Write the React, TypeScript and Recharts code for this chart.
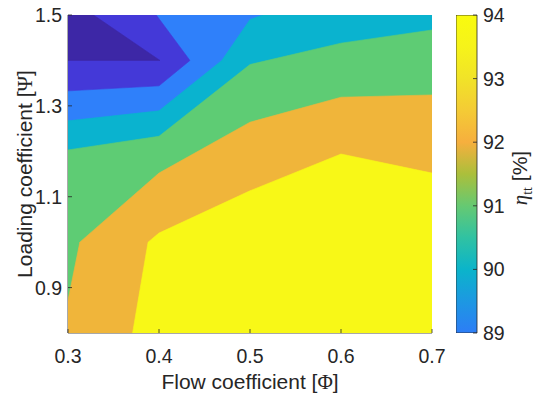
import React from 'react';
import { ComposedChart, Scatter, XAxis, YAxis, Label, Bar } from 'recharts';

type Pt = { x: number; y: number };

// Axes
const xDomain = [0.3, 0.7];
const yDomain = [0.8, 1.5];
const xTicks = [0.3, 0.4, 0.5, 0.6, 0.7];
const yTicks = [0.9, 1.1, 1.3, 1.5];

// Colorbar
const cbRange = [89, 94];
const cbTicks = [89, 90, 91, 92, 93, 94];

// Contour boundaries (Flow coefficient x, Loading coefficient y)
const topEdge: Pt[] = [
  { x: 0.3, y: 1.5 },
  { x: 0.7, y: 1.5 },
];
const cyanTop: Pt[] = [
  { x: 0.3, y: 1.267 },
  { x: 0.4, y: 1.289 },
  { x: 0.469, y: 1.4 },
  { x: 0.5, y: 1.49 },
  { x: 0.514, y: 1.5 },
  { x: 0.7, y: 1.5 },
];
const greenTop: Pt[] = [
  { x: 0.3, y: 1.203 },
  { x: 0.4, y: 1.233 },
  { x: 0.5, y: 1.391 },
  { x: 0.6, y: 1.438 },
  { x: 0.7, y: 1.467 },
];
const orangeTop: Pt[] = [
  { x: 0.3, y: 0.872 },
  { x: 0.313, y: 1.0 },
  { x: 0.4, y: 1.152 },
  { x: 0.5, y: 1.264 },
  { x: 0.6, y: 1.319 },
  { x: 0.7, y: 1.324 },
];
const yellowTop: Pt[] = [
  { x: 0.371, y: 0.8 },
  { x: 0.388, y: 1.0 },
  { x: 0.4, y: 1.02 },
  { x: 0.5, y: 1.113 },
  { x: 0.6, y: 1.194 },
  { x: 0.7, y: 1.152 },
];
const violetRegion: Pt[] = [
  { x: 0.3, y: 1.333 },
  { x: 0.4, y: 1.344 },
  { x: 0.434, y: 1.4 },
  { x: 0.397, y: 1.5 },
  { x: 0.3, y: 1.5 },
];
const darkRegion: Pt[] = [
  { x: 0.3, y: 1.4 },
  { x: 0.401, y: 1.4 },
  { x: 0.328, y: 1.5 },
  { x: 0.3, y: 1.5 },
];

const C_DARK = '#3D27A6';
const C_VIOLET = '#4439D8';
const C_BLUE = '#2F80FA';
const C_CYAN = '#0AB3CF';
const C_GREEN = '#5ECC74';
const C_ORANGE = '#F0B53A';
const C_YELLOW = '#F8F817';

const AX = '#262626';
const FONT = '"Liberation Sans", Arial, Helvetica, sans-serif';
const SERIF = '"Liberation Serif", "DejaVu Serif", serif';
const TICK_FS = 19.5;
const LABEL_FS = 21;

const below = (b: Pt[]): Pt[] => [
  { x: b[0].x, y: yDomain[0] },
  ...b,
  { x: b[b.length - 1].x, y: yDomain[0] },
];

const layers: { pts: Pt[]; color: string }[] = [
  { pts: below(topEdge), color: C_BLUE },
  { pts: below(cyanTop), color: C_CYAN },
  { pts: below(greenTop), color: C_GREEN },
  { pts: below(orangeTop), color: C_ORANGE },
  { pts: below(yellowTop), color: C_YELLOW },
  { pts: violetRegion, color: C_VIOLET },
  { pts: darkRegion, color: C_DARK },
];

const polygon = (fill: string) => (props: any) => {
  const pts: { x: number; y: number }[] = props.points || [];
  const d = pts.map((p, i) => `${i ? 'L' : 'M'}${p.x},${p.y}`).join('') + 'Z';
  return <path d={d} fill={fill} stroke={fill} strokeWidth={0.6} />;
};

const fmt = (v: number) => v.toFixed(1);

const BottomTick = (props: any) => {
  const { x, y, payload } = props;
  return (
    <g>
      <line x1={x} x2={x} y1={y} y2={y - 4} stroke={AX} strokeWidth={0.8} />
      <text x={x} y={y + 30} textAnchor="middle" fontFamily={FONT} fontSize={TICK_FS} fill={AX}>
        {fmt(payload.value)}
      </text>
    </g>
  );
};
const TopTick = (props: any) => {
  const { x, y } = props;
  return <line x1={x} x2={x} y1={y} y2={y + 4} stroke={AX} strokeWidth={0.8} />;
};
const LeftTick = (props: any) => {
  const { x, y, payload } = props;
  return (
    <g>
      <line x1={x} x2={x + 4} y1={y} y2={y} stroke={AX} strokeWidth={0.8} />
      <text x={x - 6} y={y + 7} textAnchor="end" fontFamily={FONT} fontSize={TICK_FS} fill={AX}>
        {fmt(payload.value)}
      </text>
    </g>
  );
};
const RightTick = (props: any) => {
  const { x, y } = props;
  return <line x1={x} x2={x - 4} y1={y} y2={y} stroke={AX} strokeWidth={0.8} />;
};
const CbTick = (props: any) => {
  const { x, y, payload } = props;
  return (
    <g>
      <line x1={x} x2={x - 4} y1={y} y2={y} stroke={AX} strokeWidth={0.8} />
      <text x={x + 6} y={y + 7} textAnchor="start" fontFamily={FONT} fontSize={TICK_FS} fill={AX}>
        {payload.value}
      </text>
    </g>
  );
};

const XLabel = (props: any) => {
  const { x, y, width } = props.viewBox;
  return (
    <text x={x + width / 2} y={y + 56} textAnchor="middle" fontFamily={FONT} fontSize={LABEL_FS} fill={AX}>
      Flow coefficient [<tspan fontFamily={SERIF}>Φ</tspan>]
    </text>
  );
};
const YLabel = (props: any) => {
  const { x, y, height } = props.viewBox;
  const cx = x + 32;
  const cy = y + height / 2;
  return (
    <text x={cx} y={cy} transform={`rotate(-90 ${cx} ${cy})`} textAnchor="middle" fontFamily={FONT} fontSize={LABEL_FS} fill={AX}>
      Loading coefficient [<tspan fontFamily={SERIF}>Ψ</tspan>]
    </text>
  );
};
const CbLabel = (props: any) => {
  const { x, y, height } = props.viewBox;
  const cx = x + 50;
  const cy = y + height / 2 + 4;
  return (
    <text x={cx} y={cy} transform={`rotate(-90 ${cx} ${cy})`} textAnchor="middle" fontFamily={FONT} fontSize={LABEL_FS} fill={AX}>
      <tspan fontFamily={SERIF} fontStyle="italic">η</tspan>
      <tspan fontFamily={SERIF} fontSize={14} dy={5}>tt</tspan>
      <tspan dy={-5}> [%]</tspan>
    </text>
  );
};

const cbData = [{ name: 'cb', range: cbRange }];

export default function App() {
  return (
    <div style={{ position: 'absolute', left: 0, top: 0, width: 537, height: 396, background: '#fff' }}>
      <div style={{ position: 'absolute', left: 0, top: 0 }}>
        <ComposedChart width={450} height={396} margin={{ top: 15, right: 18, bottom: 0, left: 0 }}>
          {layers.map((l, i) => (
            <Scatter
              key={i}
              data={l.pts}
              line={polygon(l.color)}
              lineType="joint"
              shape={() => <g />}
              fill={l.color}
              isAnimationActive={false}
            />
          ))}
          <XAxis
            dataKey="x"
            type="number"
            domain={xDomain}
            ticks={xTicks}
            interval={0}
            allowDataOverflow
            height={63}
            tickSize={0}
            tickMargin={0}
            tickLine={false}
            tick={<BottomTick />}
            axisLine={{ stroke: AX, strokeWidth: 0.8 }}
          >
            <Label content={XLabel} />
          </XAxis>
          <XAxis
            xAxisId="top"
            orientation="top"
            dataKey="x"
            type="number"
            domain={xDomain}
            ticks={xTicks}
            interval={0}
            allowDataOverflow
            height={0}
            tickSize={0}
            tickMargin={0}
            tickLine={false}
            tick={<TopTick />}
            axisLine={{ stroke: AX, strokeWidth: 0.8 }}
          />
          <YAxis
            dataKey="y"
            type="number"
            domain={yDomain}
            ticks={yTicks}
            interval={0}
            allowDataOverflow
            width={68}
            tickSize={0}
            tickMargin={0}
            tickLine={false}
            tick={<LeftTick />}
            axisLine={{ stroke: AX, strokeWidth: 0.8 }}
          >
            <Label content={YLabel} />
          </YAxis>
          <YAxis
            yAxisId="right"
            orientation="right"
            dataKey="y"
            type="number"
            domain={yDomain}
            ticks={yTicks}
            interval={0}
            allowDataOverflow
            width={0}
            tickSize={0}
            tickMargin={0}
            tickLine={false}
            tick={<RightTick />}
            axisLine={{ stroke: AX, strokeWidth: 0.8 }}
          />
        </ComposedChart>
      </div>
      <div style={{ position: 'absolute', left: 456, top: 0 }}>
        <ComposedChart width={81} height={396} data={cbData} margin={{ top: 15, right: 0, bottom: 63, left: 0 }} barCategoryGap={0}>
          <defs>
            <linearGradient id="cbGrad" x1="0" y1="1" x2="0" y2="0">
              <stop offset="0%" stopColor="#2D7DF6" />
              <stop offset="10%" stopColor="#1D98E2" />
              <stop offset="20%" stopColor="#0BB4CA" />
              <stop offset="30%" stopColor="#30C2A2" />
              <stop offset="40%" stopColor="#66C972" />
              <stop offset="50%" stopColor="#ABBF3B" />
              <stop offset="60%" stopColor="#F6AF3E" />
              <stop offset="70%" stopColor="#F4CB35" />
              <stop offset="80%" stopColor="#F1E328" />
              <stop offset="90%" stopColor="#F6F31A" />
              <stop offset="100%" stopColor="#F9FB0E" />
            </linearGradient>
          </defs>
          <XAxis dataKey="name" type="category" hide />
          <YAxis
            orientation="right"
            type="number"
            domain={cbRange}
            ticks={cbTicks}
            interval={0}
            allowDataOverflow
            width={60}
            tickSize={0}
            tickMargin={0}
            tickLine={false}
            tick={<CbTick />}
            axisLine={false}
          >
            <Label content={CbLabel} />
          </YAxis>
          <Bar dataKey="range" fill="url(#cbGrad)" stroke={AX} strokeWidth={0.8} isAnimationActive={false} />
        </ComposedChart>
      </div>
    </div>
  );
}
